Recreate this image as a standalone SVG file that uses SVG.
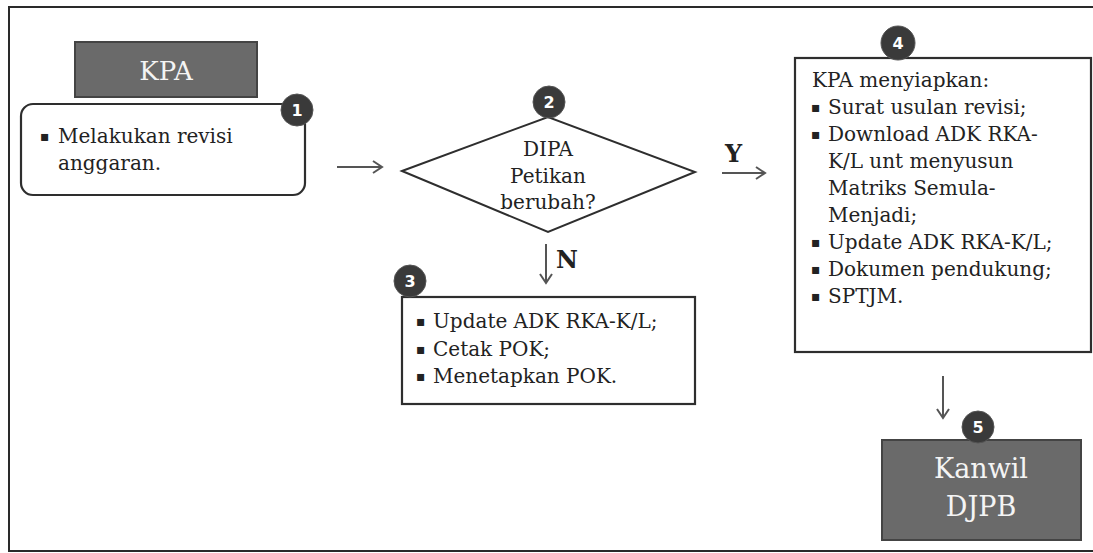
<svg xmlns="http://www.w3.org/2000/svg" width="1093" height="553" viewBox="0 0 1093 553">
<style>
.t{font-family:"DejaVu Serif","Liberation Serif",serif;font-size:20px;fill:#222}
.b{font-family:"DejaVu Sans",sans-serif;font-size:14px;fill:#222}
.box{fill:#fff;stroke:#2e2e2e;stroke-width:2.2}
.dark{fill:#6a6a6a;stroke:#444;stroke-width:2}
.wt{font-family:"DejaVu Serif","Liberation Serif",serif;fill:#f4f4f4;text-anchor:middle}
.badge{fill:#3a3a3a;stroke:#555;stroke-width:1}
.num{font-family:"DejaVu Sans","Liberation Sans",sans-serif;font-weight:bold;font-size:16px;fill:#fff;text-anchor:middle}
.lbl{font-family:"DejaVu Serif","Liberation Serif",serif;font-weight:bold;font-size:24px;fill:#222}
.c{stroke:#555;stroke-width:2;fill:none;marker-end:url(#ah)}
</style>
<defs>
<marker id="ah" markerWidth="12" markerHeight="14" refX="10" refY="7" orient="auto" markerUnits="userSpaceOnUse">
<path d="M1,1 L10,7 L1,13" fill="none" stroke="#555" stroke-width="2"/>
</marker>
</defs>
<rect width="1093" height="553" fill="#fff"/>
<rect x="9" y="7" width="1100" height="544" fill="none" stroke="#2a2a2a" stroke-width="2"/>

<g id="kpa">
<rect class="dark" x="75" y="42" width="182" height="55"/>
<text class="wt" x="166" y="80" font-size="26">KPA</text>
</g>

<g id="step1">
<rect class="box" x="21" y="104" width="284" height="91" rx="12"/>
<text class="t" y="143"><tspan class="b" x="40" dy="-2">▪</tspan><tspan x="58" dy="2">Melakukan revisi</tspan></text>
<text class="t" x="58" y="170">anggaran.</text>
<circle class="badge" cx="297" cy="110" r="16"/>
<text class="num" x="297" y="116">1</text>
</g>

<g id="step2">
<polygon points="402,171 548,117 695,172 548,232" fill="#fff" stroke="#2e2e2e" stroke-width="2"/>
<text class="t" x="548" y="156" text-anchor="middle">DIPA</text>
<text class="t" x="548" y="183" text-anchor="middle">Petikan</text>
<text class="t" x="548" y="209" text-anchor="middle">berubah?</text>
<circle class="badge" cx="549" cy="102" r="16"/>
<text class="num" x="549" y="108">2</text>
</g>

<g id="step3">
<rect class="box" x="402" y="297" width="293" height="107"/>
<text class="t" y="328"><tspan class="b" x="416" dy="-2">▪</tspan><tspan x="433" dy="2">Update ADK RKA-K/L;</tspan></text>
<text class="t" y="356"><tspan class="b" x="416" dy="-2">▪</tspan><tspan x="433" dy="2">Cetak POK;</tspan></text>
<text class="t" y="383"><tspan class="b" x="416" dy="-2">▪</tspan><tspan x="433" dy="2">Menetapkan POK.</tspan></text>
<circle class="badge" cx="410" cy="281" r="16"/>
<text class="num" x="410" y="287">3</text>
</g>

<g id="step4">
<rect class="box" x="795" y="58" width="296" height="294"/>
<text class="t" x="812" y="87">KPA menyiapkan:</text>
<text class="t" y="114"><tspan class="b" x="811" dy="-2">▪</tspan><tspan x="828" dy="2">Surat usulan revisi;</tspan></text>
<text class="t" y="141"><tspan class="b" x="811" dy="-2">▪</tspan><tspan x="828" dy="2">Download ADK RKA-</tspan></text>
<text class="t" x="828" y="168">K/L unt menyusun</text>
<text class="t" x="828" y="195">Matriks Semula-</text>
<text class="t" x="828" y="222">Menjadi;</text>
<text class="t" y="249"><tspan class="b" x="811" dy="-2">▪</tspan><tspan x="828" dy="2">Update ADK RKA-K/L;</tspan></text>
<text class="t" y="276"><tspan class="b" x="811" dy="-2">▪</tspan><tspan x="828" dy="2">Dokumen pendukung;</tspan></text>
<text class="t" y="303"><tspan class="b" x="811" dy="-2">▪</tspan><tspan x="828" dy="2">SPTJM.</tspan></text>
<circle class="badge" cx="898" cy="43" r="17"/>
<text class="num" x="898" y="49">4</text>
</g>

<g id="step5">
<rect class="dark" x="882" y="440" width="199" height="100"/>
<text class="wt" x="981" y="478" font-size="27">Kanwil</text>
<text class="wt" x="981" y="516" font-size="27">DJPB</text>
<circle class="badge" cx="978" cy="427" r="16"/>
<text class="num" x="978" y="433">5</text>
</g>

<g id="connectors">
<line class="c" x1="337" y1="167" x2="382" y2="167"/>
<line class="c" x1="722" y1="173" x2="765" y2="173"/>
<text class="lbl" x="725" y="162">Y</text>
<line class="c" x1="546" y1="244" x2="546" y2="283"/>
<text class="lbl" x="556" y="268">N</text>
<line class="c" x1="943" y1="376" x2="943" y2="418"/>
</g>
</svg>
